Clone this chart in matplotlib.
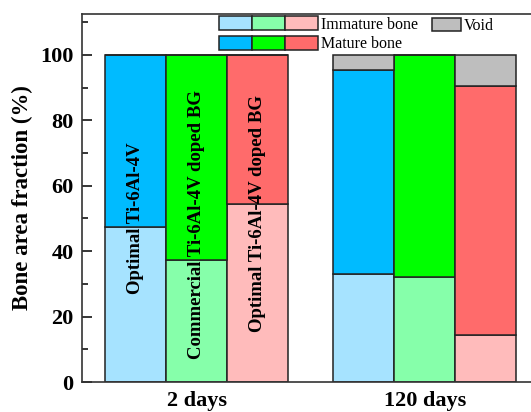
import matplotlib
matplotlib.use("Agg")
import matplotlib.pyplot as plt
from matplotlib.patches import Patch
from matplotlib.legend_handler import HandlerTuple
from matplotlib.ticker import MultipleLocator

plt.rcParams["font.family"] = ["Liberation Serif", "DejaVu Serif"]

# ============================
# DATA
# ============================
groups = ["2 days", "120 days"]
samples = ["Optimal Ti-6Al-4V", "Commercial Ti-6Al-4V doped BG", "Optimal Ti-6Al-4V doped BG"]

immature_2d = [47.3, 37.2, 54.3]
mature_2d = [52.7, 62.8, 45.7]
void_2d = [0.0, 0.0, 0.0]

immature_120d = [33.0, 32.0, 14.5]
mature_120d = [62.5, 68.0, 76.0]
void_120d = [4.5, 0.0, 9.5]

# cores (claro = imaturo, forte = maduro)
light_colors = ["#A6E3FF", "#86FFAA", "#FFBBBB"]
dark_colors = ["#00BBFF", "#00FF00", "#FF6B6B"]
void_color = "#BEBEBE"
edge = "#222222"

# ============================
# PLOT
# ============================
fig = plt.figure(figsize=(5.31, 4.12), dpi=100)
ax = fig.add_axes([82 / 531, 30 / 412, 1 - 82 / 531, 368 / 412])

group_step = 3.74
data = [(immature_2d, mature_2d, void_2d), (immature_120d, mature_120d, void_120d)]

for g, (imm, mat, vd) in enumerate(data):
    x = [g * group_step + i for i in range(len(samples))]
    ax.bar(x, imm, width=1.0, color=light_colors, edgecolor=edge, linewidth=1.1)
    ax.bar(x, mat, width=1.0, bottom=imm, color=dark_colors, edgecolor=edge, linewidth=1.1)
    tops = [a + b for a, b in zip(imm, mat)]
    ax.bar(x, vd, width=1.0, bottom=tops, color=void_color, edgecolor=edge, linewidth=1.1)

# nomes das amostras dentro das barras do grupo de 2 dias
text_y = [50, 48, 51.5]
for i, name in enumerate(samples):
    ax.text(i, text_y[i], name, rotation=90, ha="center", va="center",
            fontsize=13.5, fontweight="bold")

ax.set_xlim(-0.877, 6.48)
ax.set_ylim(0, 112.5)
ax.set_xticks([1, group_step + 1])
ax.set_xticklabels(groups, fontsize=16, fontweight="bold")
ax.tick_params(axis="x", length=0, pad=6.5)

ax.yaxis.set_major_locator(MultipleLocator(20))
ax.yaxis.set_minor_locator(MultipleLocator(10))
ax.tick_params(axis="y", which="major", direction="in", length=7, width=1.1, labelsize=16, pad=6)
ax.tick_params(axis="y", which="minor", direction="in", length=4.5, width=1.1)
for lab in ax.get_yticklabels():
    lab.set_fontweight("bold")
ax.set_ylabel("Bone area fraction (%)", fontsize=16.5, fontweight="bold", labelpad=5)

for s in ["left", "bottom", "top"]:
    ax.spines[s].set_linewidth(1.2)
    ax.spines[s].set_color("#333333")
ax.spines["right"].set_visible(False)

# ============================
# LEGENDA
# ============================
imm_handles = tuple(Patch(facecolor=c, edgecolor=edge, linewidth=1.1) for c in light_colors)
mat_handles = tuple(Patch(facecolor=c, edgecolor=edge, linewidth=1.1) for c in dark_colors)
leg1 = ax.legend([imm_handles, mat_handles], ["Immature bone", "Mature bone"],
                 handler_map={tuple: HandlerTuple(ndivide=None, pad=0)},
                 loc="upper left", bbox_to_anchor=(219 / 531, 1 - 16 / 412),
                 bbox_transform=fig.transFigure, frameon=False, fontsize=11.5,
                 handlelength=6.2, handleheight=1.0, labelspacing=0.2,
                 handletextpad=0.2, borderpad=0, borderaxespad=0)
ax.add_artist(leg1)
ax.legend([Patch(facecolor=void_color, edgecolor=edge, linewidth=1.1)], ["Void"],
          loc="upper left", bbox_to_anchor=(432 / 531, 1 - 18 / 412),
          bbox_transform=fig.transFigure, frameon=False, fontsize=11.5,
          handlelength=1.8, handleheight=0.8, handletextpad=0.2,
          borderpad=0, borderaxespad=0)

plt.savefig("out.png", dpi=100)
